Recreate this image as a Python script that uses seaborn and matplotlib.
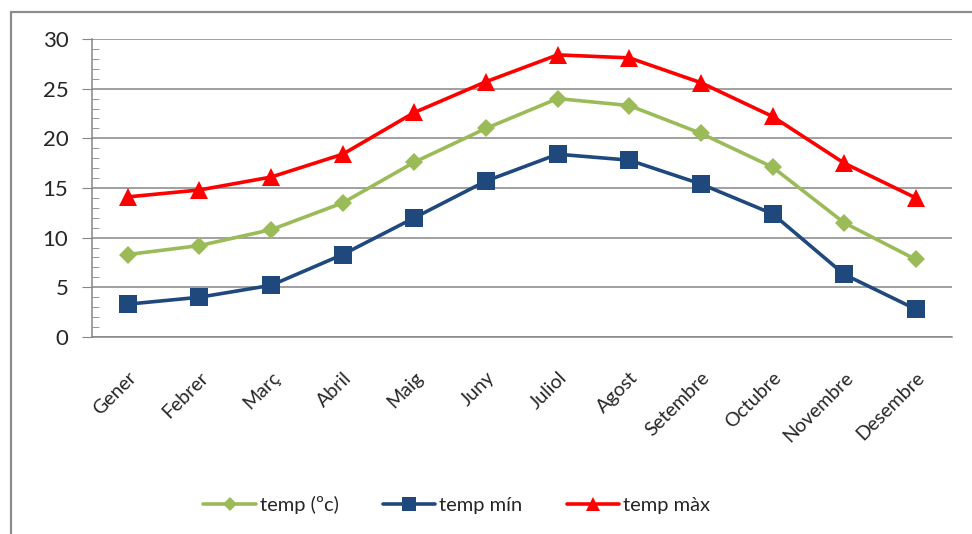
import numpy as np
import pandas as pd
import matplotlib.pyplot as plt
import matplotlib.lines as mlines
import seaborn as sns

# SECTION - DATA
mesos = ["Gener", "Febrer", "Març", "Abril", "Maig", "Juny",
         "Juliol", "Agost", "Setembre", "Octubre", "Novembre", "Desembre"]
temp_mitjana = [8.3, 9.2, 10.8, 13.5, 17.6, 21.0, 24.0, 23.3, 20.5, 17.1, 11.5, 7.8]
temp_min = [3.3, 4.0, 5.2, 8.3, 12.0, 15.7, 18.4, 17.8, 15.4, 12.4, 6.3, 2.8]
temp_max = [14.1, 14.8, 16.1, 18.4, 22.6, 25.7, 28.4, 28.1, 25.6, 22.2, 17.5, 14.0]
series = ["temp (ºc)", "temp mín", "temp màx"]
# !SECTION

colors = {"temp (ºc)": "#9BBB59", "temp mín": "#1F497D", "temp màx": "#FF0000"}
markers = {"temp (ºc)": "D", "temp mín": "s", "temp màx": "^"}
msizes = {"temp (ºc)": 9, "temp mín": 13, "temp màx": 13}

sns.set_style("white")
plt.rcParams["font.family"] = ["Lato", "DejaVu Sans"]

df = pd.DataFrame({"pos": np.arange(len(mesos))})
for name, vals in zip(series, [temp_mitjana, temp_min, temp_max]):
    df[name] = vals
df_long = df.melt(id_vars="pos", var_name="serie", value_name="temp")

fig = plt.figure(figsize=(9.72, 5.34), dpi=100)
ax = fig.add_axes([0.0947, 0.369, 0.8843, 0.558])

for name in series:
    sub = df_long[df_long["serie"] == name]
    sns.lineplot(data=sub, x="pos", y="temp", ax=ax, color=colors[name],
                 marker=markers[name], markersize=msizes[name], markeredgewidth=0,
                 linewidth=2.6, label=name, legend=False)

grey = "#868686"
ax.set_xlim(-0.5, 11.5)
ax.set_ylim(0, 30)
ax.set_yticks(np.arange(0, 31, 5))
ax.set_yticks(np.arange(0, 31, 1), minor=True)
ax.yaxis.grid(True, which="major", color=grey, linewidth=1.1)
ax.set_axisbelow(True)
ax.set_xticks(np.arange(len(mesos)))
ax.set_xticklabels(mesos, rotation=45, ha="right", va="top", rotation_mode="anchor")
ax.set_xticks(np.arange(-0.5, 12, 1), minor=True)
ax.tick_params(axis="x", which="major", length=0, pad=23, labelsize=14)
ax.tick_params(axis="x", which="minor", length=6, color=grey, direction="out")
ax.tick_params(axis="y", which="major", length=7, color=grey, direction="out",
               pad=10, labelsize=16, left=True)
ax.tick_params(axis="y", which="minor", length=5, color=grey, direction="in", left=True)
ax.set_xlabel("")
ax.set_ylabel("")
for side in ["top", "right"]:
    ax.spines[side].set_visible(False)
for side in ["left", "bottom"]:
    ax.spines[side].set_color(grey)
    ax.spines[side].set_linewidth(1.1)

handles = [mlines.Line2D([], [], color=colors[n], marker=markers[n],
                         markersize=msizes[n] * 0.75, markeredgewidth=0, linewidth=2.6)
           for n in series]
fig.legend(handles, series, loc="center", bbox_to_anchor=(0.47, 0.055), ncol=3,
           frameon=False, fontsize=14.5, handlelength=2.6, handletextpad=0.2,
           columnspacing=2.2)

# chart area border (only left and top visible)
fig.add_artist(mlines.Line2D([11 / 972, 11 / 972], [0, 1 - 12 / 534],
                             transform=fig.transFigure, color="#8c8c8c", linewidth=1.6))
fig.add_artist(mlines.Line2D([11 / 972, 1], [1 - 12 / 534, 1 - 12 / 534],
                             transform=fig.transFigure, color="#8c8c8c", linewidth=1.6))

fig.savefig("out.png", dpi=100)
